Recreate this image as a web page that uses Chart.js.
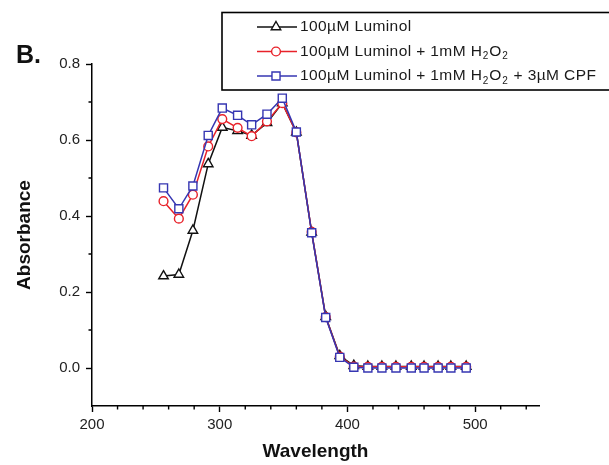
<!DOCTYPE html>
<html>
<head>
<meta charset="utf-8">
<script src="https://cdn.jsdelivr.net/npm/chart.js@4"></script>
<style>
  html, body { margin: 0; padding: 0; background: #fff; }
  #wrap { width: 609px; height: 465px; position: relative; }
</style>
</head>
<body>
<div id="wrap"><canvas id="c"></canvas></div>
<script>
// ---- data ----
const wavelengths = [256, 268, 279, 291, 302, 314, 325, 337, 349, 360, 372, 383, 394, 405, 416, 427, 438, 450, 460, 471, 481, 493];
const luminol     = [0.242, 0.246, 0.362, 0.537, 0.633, 0.624, 0.612, 0.645, 0.697, 0.620, 0.357, 0.135, 0.032, 0.006, 0.004, 0.004, 0.004, 0.004, 0.004, 0.004, 0.004, 0.004];
const luminolH2O2 = [0.439, 0.393, 0.456, 0.583, 0.655, 0.632, 0.610, 0.649, 0.697, 0.620, 0.358, 0.134, 0.030, 0.004, 0.003, 0.003, 0.003, 0.003, 0.003, 0.003, 0.003, 0.003];
const luminolCPF  = [0.474, 0.419, 0.479, 0.612, 0.684, 0.665, 0.640, 0.668, 0.710, 0.621, 0.356, 0.133, 0.028, 0.002, 0.000, 0.000, 0.000, 0.000, 0.000, 0.000, 0.000, 0.000];
const seriesLabels = ['100µM Luminol', '100µM Luminol + 1mM H₂O₂', '100µM Luminol + 1mM H₂O₂ + 3µM CPF'];
const xTickValues = [200, 300, 400, 500];
const yTickValues = [0.0, 0.2, 0.4, 0.6, 0.8];
const xMinorValues = [220, 240, 260, 280, 320, 340, 360, 380, 420, 440, 460, 480, 520, 540];
const yMinorValues = [0.1, 0.3, 0.5, 0.7];
const panelLabel = 'B.';
const xTitle = 'Wavelength';
const yTitle = 'Absorbance';

const toPts = (ys) => wavelengths.map((x, i) => ({ x: x, y: ys[i] }));

const FONT = "'Liberation Sans', Arial, sans-serif";

const extras = {
  id: 'extras',
  afterDraw(chart) {
    const ctx = chart.ctx;
    const xs = chart.scales.x, ys = chart.scales.y;
    ctx.save();
    // minor ticks
    ctx.strokeStyle = '#000';
    ctx.lineWidth = 1.4;
    ctx.beginPath();
    xMinorValues.forEach(v => {
      const px = xs.getPixelForValue(v);
      ctx.moveTo(px, ys.bottom); ctx.lineTo(px, ys.bottom + 3.5);
    });
    yMinorValues.forEach(v => {
      const py = ys.getPixelForValue(v);
      ctx.moveTo(xs.left, py); ctx.lineTo(xs.left - 3.5, py);
    });
    ctx.stroke();

    // panel label
    ctx.fillStyle = '#111';
    ctx.font = "bold 25px " + FONT;
    ctx.textAlign = 'left';
    ctx.textBaseline = 'alphabetic';
    ctx.fillText(panelLabel, 16, 63);

    // legend box
    ctx.fillStyle = '#fff';
    ctx.fillRect(222, 12.5, 400, 77.5);
    ctx.strokeStyle = '#000';
    ctx.lineWidth = 1.6;
    ctx.strokeRect(222, 12.5, 400, 77.5);

    const rowY = [27, 51.5, 76];
    chart.data.datasets.forEach((ds, i) => {
      const y = rowY[i];
      ctx.strokeStyle = ds.borderColor;
      ctx.lineWidth = 1.4;
      ctx.beginPath();
      ctx.moveTo(257, y); ctx.lineTo(297, y);
      ctx.stroke();
      ctx.fillStyle = '#fff';
      ctx.strokeStyle = ds.borderColor;
      ctx.lineWidth = ds.pointBorderWidth;
      Chart.helpers.drawPoint(ctx, { pointStyle: ds.pointStyle, radius: ds.pointRadius, borderWidth: ds.pointBorderWidth, rotation: 0 }, 276, y);
      // label with subscripts
      let x = 300;
      ctx.fillStyle = '#1a1a1a';
      ctx.textBaseline = 'middle';
      ctx.textAlign = 'left';
      const parts = ds.label.split(/(₂)/);
      parts.forEach(p => {
        if (!p) return;
        if (p === '₂') {
          ctx.font = "10px " + FONT;
          try { ctx.letterSpacing = '0px'; } catch (e) {}
          ctx.fillText('2', x + 0.5, y + 5);
          x += ctx.measureText('2').width + 1.5;
        } else {
          ctx.font = "15.5px " + FONT;
          try { ctx.letterSpacing = '0.4px'; } catch (e) {}
          ctx.fillText(p, x, y);
          x += ctx.measureText(p).width;
        }
      });
      try { ctx.letterSpacing = '0px'; } catch (e) {}
    });
    ctx.restore();
  }
};

new Chart(document.getElementById('c'), {
  type: 'line',
  data: {
    datasets: [
      { label: seriesLabels[0], data: toPts(luminol), borderColor: '#111111', pointStyle: 'triangle', pointRadius: 5.5, pointBorderWidth: 1.4, order: 3 },
      { label: seriesLabels[1], data: toPts(luminolH2O2), borderColor: '#e8222a', pointStyle: 'circle', pointRadius: 4.4, pointBorderWidth: 1.4, order: 2 },
      { label: seriesLabels[2], data: toPts(luminolCPF), borderColor: '#3636b2', pointStyle: 'rect', pointRadius: 5.7, pointBorderWidth: 1.4, order: 1 }
    ].map(d => Object.assign(d, { backgroundColor: '#ffffff', pointBackgroundColor: '#ffffff', pointBorderColor: d.borderColor, borderWidth: 1.5, tension: 0, pointHoverRadius: d.pointRadius }))
  },
  options: {
    responsive: true,
    maintainAspectRatio: false,
    animation: false,
    layout: { padding: { left: 0, right: 70, top: 64, bottom: 0 } },
    plugins: { legend: { display: false }, tooltip: { enabled: false } },
    scales: {
      x: {
        type: 'linear',
        min: 200, max: 550,
        afterBuildTicks: s => { s.ticks = xTickValues.map(v => ({ value: v })); },
        afterFit: s => { s.height = 59; },
        grid: { drawOnChartArea: false, drawTicks: true, tickLength: 6, tickColor: '#000', tickWidth: 1.4 },
        border: { display: true, color: '#000', width: 1.5 },
        ticks: { color: '#222', font: { family: FONT, size: 15 }, padding: 4, maxRotation: 0, callback: v => String(v) },
        title: { display: true, text: xTitle, color: '#111', font: { family: FONT, size: 19, weight: 'bold' }, padding: { top: 0, bottom: 2 } }
      },
      y: {
        type: 'linear',
        min: -0.1, max: 0.8,
        afterBuildTicks: s => { s.ticks = yTickValues.map(v => ({ value: v })); },
        afterFit: s => { s.width = 92; },
        grid: { drawOnChartArea: false, drawTicks: true, tickLength: 6, tickColor: '#000', tickWidth: 1.4 },
        border: { display: true, color: '#000', width: 1.5 },
        ticks: { color: '#222', font: { family: FONT, size: 15 }, padding: 6, callback: v => Number(v).toFixed(1) },
        title: { display: true, text: yTitle, color: '#111', font: { family: FONT, size: 19, weight: 'bold' }, padding: { top: 13.5, bottom: 0 } }
      }
    }
  },
  plugins: [extras]
});
</script>
</body>
</html>
